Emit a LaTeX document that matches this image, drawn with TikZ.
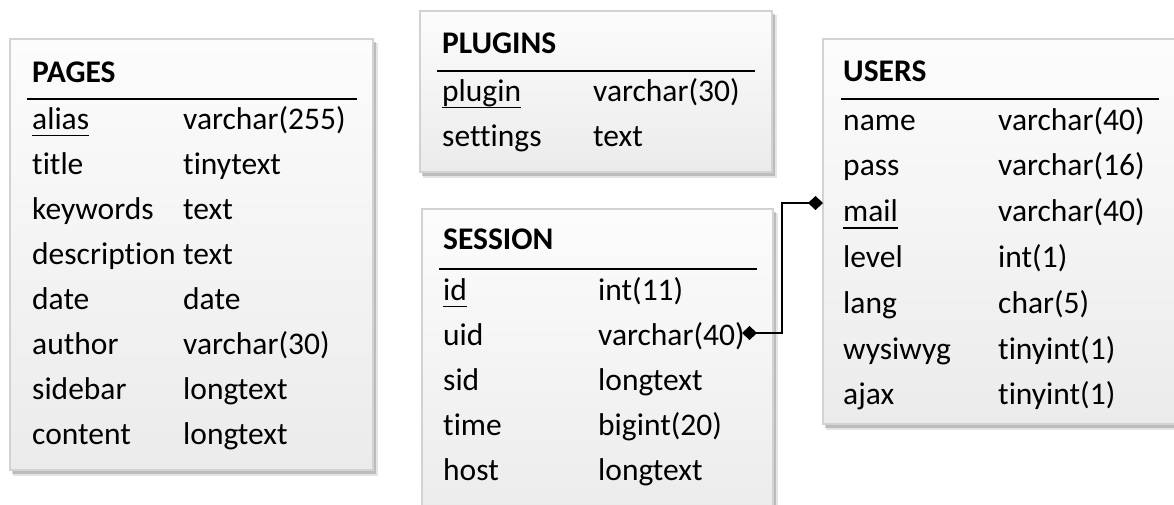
\documentclass[tikz,border=0pt]{standalone}
\usepackage{fontspec}
\setmainfont{Carlito}[Ligatures={NoCommon}]
\usetikzlibrary{arrows.meta}
\definecolor{boxtop}{HTML}{FCFCFC}
\definecolor{boxbot}{HTML}{EBEBEB}
\definecolor{boxline}{HTML}{D2D2D2}
\newcommand\keyul[1]{\setbox0\hbox{#1}\rlap{\rule[-7.4pt]{\wd0}{1.7pt}}#1}
\tikzset{
  tbox/.style={draw=boxline, line width=1.2pt, top color=boxtop, bottom color=boxbot},
  tshadow/.style={fill=black, fill opacity=0.18, draw=none},
  txt/.style={anchor=base west, inner sep=0pt, font=\fontsize{31.5}{36}\selectfont},
  hdr/.style={anchor=base west, inner sep=0pt, font=\fontsize{31.5}{36}\selectfont\bfseries},
  hrule/.style={line width=2.6pt},
  conn/.style={line width=1.6pt, {Diamond[length=15pt,width=14pt]}-{Diamond[length=15pt,width=14pt]}}
}
\begin{document}
\begin{tikzpicture}[x=1pt,y=-1pt]
\useasboundingbox (0,0) rectangle (1174,504);
\clip (0,0) rectangle (1174,504);
% shadows
\foreach \a/\b/\c/\d in {10/39/373/470, 420/11/772/172, 422/209/773/530, 823/39/1190/424}{
  \fill[tshadow] (\a+2,\b+3) rectangle (\c+3,\d+4);
  \fill[tshadow, fill opacity=0.10] (\a+3,\b+4) rectangle (\c+5,\d+6);
}
% PAGES
\path[tbox] (10,39) rectangle (373,470);
\node[hdr] (p-h) at (32,82) {PAGES};
\draw[hrule] (27,99) -- (357,99);
\foreach \n/\t [count=\i from 0] in {\keyul{alias}/varchar(255), title/tinytext, keywords/text, description/text, date/date, author/varchar(30), sidebar/longtext, content/longtext}{
  \node[txt] (p-n\i) at (32,129+45*\i) {\n};
  \node[txt] (p-t\i) at (183,129+45*\i) {\t};
}
% PLUGINS
\path[tbox] (420,11) rectangle (772,172);
\node[hdr] (pl-h) at (442,53) {PLUGINS};
\draw[hrule] (437,71) -- (755,71);
\foreach \n/\t [count=\i from 0] in {\keyul{plugin}/varchar(30), settings/text}{
  \node[txt] (pl-n\i) at (442,101+45*\i) {\n};
  \node[txt] (pl-t\i) at (593,101+45*\i) {\t};
}
% SESSION
\path[tbox] (422,209) rectangle (773,530);
\node[hdr] (s-h) at (443,249) {SESSION};
\draw[hrule] (439,269) -- (757,269);
\foreach \n/\t [count=\i from 0] in {\keyul{id}/int(11), uid/varchar(40), sid/longtext, time/bigint(20), host/longtext}{
  \node[txt] (s-n\i) at (443,300+45*\i) {\n};
  \node[txt] (s-t\i) at (598,300+45*\i) {\t};
}
% USERS
\path[tbox] (823,39) rectangle (1190,424);
\node[hdr] (u-h) at (843,81) {USERS};
\draw[hrule] (841,99) -- (1159,99);
\foreach \n/\t [count=\i from 0] in {name/varchar(40), pass/varchar(16), \keyul{mail}/varchar(40), level/int(1), lang/char(5), wysiwyg/tinyint(1), ajax/tinyint(1)}{
  \node[txt] (u-n\i) at (843,130+45.8*\i) {\n};
  \node[txt] (u-t\i) at (998,130+45.8*\i) {\t};
}
% connector
\coordinate (uidpin) at (742,333);
\coordinate (mailpin) at (823,203);
\draw[conn] (uidpin) -- (782,333) |- (mailpin);
\end{tikzpicture}
\end{document}
